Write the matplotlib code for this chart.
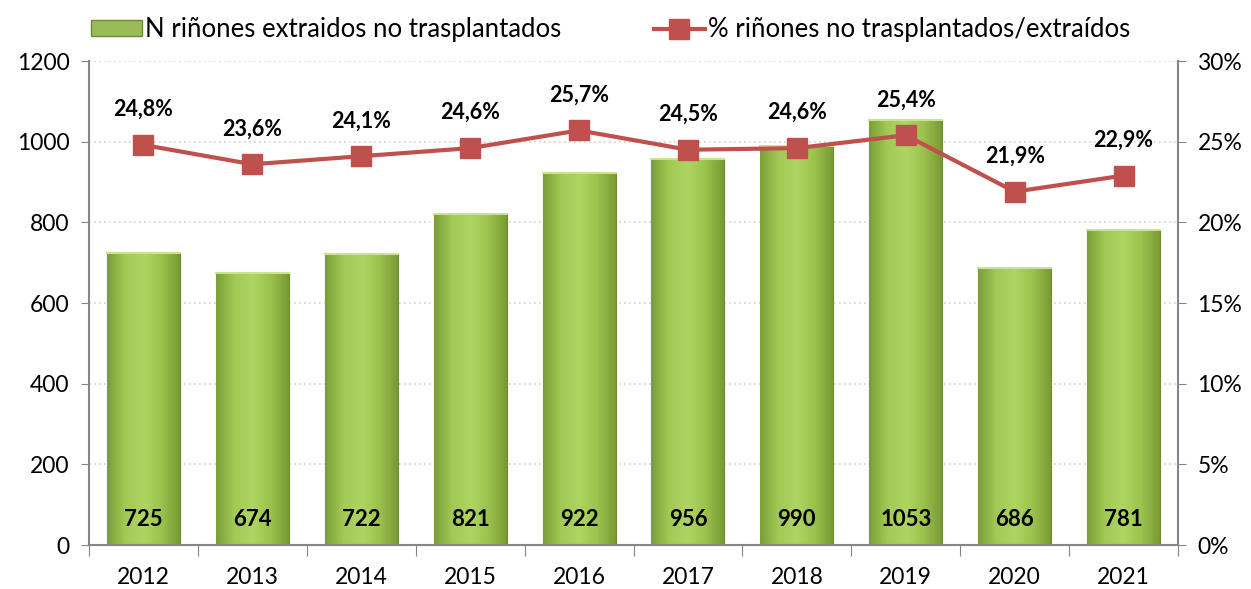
import matplotlib
matplotlib.use("Agg")
import matplotlib.pyplot as plt
import numpy as np
from matplotlib.patches import Patch
from matplotlib.lines import Line2D
from matplotlib.colors import LinearSegmentedColormap

years = ["2012", "2013", "2014", "2015", "2016", "2017", "2018", "2019", "2020", "2021"]
n_kidneys = [725, 674, 722, 821, 922, 956, 990, 1053, 686, 781]
pct = [24.8, 23.6, 24.1, 24.6, 25.7, 24.5, 24.6, 25.4, 21.9, 22.9]
pct_labels = ["24,8%", "23,6%", "24,1%", "24,6%", "25,7%", "24,5%", "24,6%", "25,4%", "21,9%", "22,9%"]
left_ticks = [0, 200, 400, 600, 800, 1000, 1200]
right_ticks = [0, 5, 10, 15, 20, 25, 30]
right_labels = ["0%", "5%", "10%", "15%", "20%", "25%", "30%"]

plt.rcParams['font.family'] = ['Lato', 'DejaVu Sans']

fig = plt.figure(figsize=(12.51, 5.89), dpi=100)
ax = fig.add_axes([0.0711, 0.0747, 0.8706, 0.8217])
ax2 = ax.twinx()

x = np.arange(len(years))
bw = 0.67
bars = ax.bar(x, n_kidneys, width=bw, color="#9BBB59", edgecolor="#6E8A34", linewidth=0.8, zorder=2)

grad = np.linspace(0, 1, 256).reshape(1, -1)
cmap = LinearSegmentedColormap.from_list("g", ["#7A9E36", "#A2C955", "#AED462", "#9CC24E", "#789A34"])
for b in bars:
    x0, y0 = b.get_x(), b.get_y()
    w, h = b.get_width(), b.get_height()
    im = ax.imshow(grad, extent=[x0, x0 + w, y0, y0 + h], aspect='auto', cmap=cmap, zorder=2.1)
    im.set_clip_path(b)
    ax.plot([x0, x0 + w], [h, h], color="#C9E48A", lw=1.5, zorder=2.2)

for xi, v in zip(x, n_kidneys):
    ax.text(xi, 64, str(v), ha='center', va='center', fontsize=16, fontweight='bold', color='black', zorder=5)

ax.set_xlim(-0.5, len(years) - 0.5)
ax.set_ylim(0, 1200)
ax.set_yticks(left_ticks)
ax.set_yticklabels([str(t) for t in left_ticks], fontsize=16.5)
ax.set_xticks(np.arange(-0.5, len(years), 1), minor=False)
ax.set_xticklabels([])
ax.set_xticks(x, minor=True)
ax.set_xticklabels(years, minor=True, fontsize=16.5)
ax.tick_params(axis='x', which='major', length=8, color='#868686', direction='out')
ax.tick_params(axis='x', which='minor', length=0, pad=16)
ax.tick_params(axis='y', length=6, color='#868686', pad=8)
ax.yaxis.grid(True, linestyle=(0, (1, 2)), color='#D8D3B8', linewidth=1.2, zorder=0)
ax.set_axisbelow(True)
for s in ['top', 'right']:
    ax.spines[s].set_visible(False)
for s in ['left', 'bottom']:
    ax.spines[s].set_color('#868686')
    ax.spines[s].set_linewidth(1.5)

ax2.plot(x, pct, color="#C0504D", lw=3, marker='s', markersize=15,
         markerfacecolor="#C0504D", markeredgecolor="#C0504D", zorder=4)
ax2.set_ylim(0, 30)
ax2.set_yticks(right_ticks)
ax2.set_yticklabels(right_labels, fontsize=16.5)
ax2.tick_params(axis='y', length=6, color='#868686', pad=8)
for s in ['top', 'left', 'bottom']:
    ax2.spines[s].set_visible(False)
ax2.spines['right'].set_color('#868686')
ax2.spines['right'].set_linewidth(1.5)
for xi, p, lab in zip(x, pct, pct_labels):
    ax2.text(xi, p + 2.2, lab, ha='center', va='center', fontsize=15.5, fontweight='bold')

handles = [Patch(facecolor="#9BBB59", edgecolor="#6E8A34"),
           Line2D([0], [0], color="#C0504D", lw=3, marker='s', markersize=15)]
fig.legend(handles, ["N riñones extraidos no trasplantados", "% riñones no trasplantados/extraídos"],
           loc='upper center', bbox_to_anchor=(0.488, 1.01), ncol=2, frameon=False,
           fontsize=18.5, columnspacing=3.6, handlelength=2.0, handleheight=0.55, handletextpad=0.1)

fig.savefig("out.png", dpi=100)
